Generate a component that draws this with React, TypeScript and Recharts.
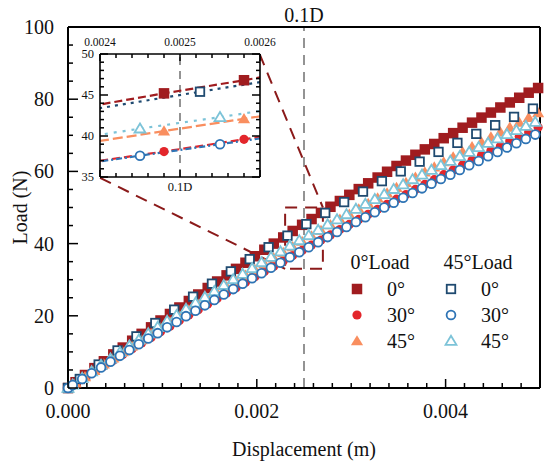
import React from 'react';
import {
  ScatterChart,
  ComposedChart,
  Scatter,
  Line,
  XAxis,
  YAxis,
  ReferenceLine,
  ReferenceArea,
  Legend,
} from 'recharts';

const FONT = '"Liberation Serif", "Times New Roman", serif';

// displacement (m) of the sampled points
const xFilled = [
  0, 0.00008, 0.00018, 0.00028, 0.00038, 0.00048, 0.00058, 0.00068, 0.00078, 0.00088, 0.00098,
  0.00108, 0.00118, 0.00128, 0.00138, 0.00148, 0.00158, 0.00168, 0.00178, 0.00188, 0.00198,
  0.00208, 0.00218, 0.00228, 0.00238, 0.00248, 0.00258, 0.00268, 0.00278, 0.00288, 0.00298,
  0.00308, 0.00318, 0.00328, 0.00338, 0.00348, 0.00358, 0.00368, 0.00378, 0.00388, 0.00398,
  0.00408, 0.00418, 0.00428, 0.00438, 0.00448, 0.00458, 0.00468, 0.00478, 0.00488, 0.00498,
];
const xHollow = [
  0, 0.00005, 0.00015, 0.00025, 0.00035, 0.00045, 0.00055, 0.00065, 0.00075, 0.00085, 0.00095,
  0.00105, 0.00115, 0.00125, 0.00135, 0.00145, 0.00155, 0.00165, 0.00175, 0.00185, 0.00195,
  0.00205, 0.00215, 0.00225, 0.00235, 0.00245, 0.00255, 0.00265, 0.00275, 0.00285, 0.00295,
  0.00305, 0.00315, 0.00325, 0.00335, 0.00345, 0.00355, 0.00365, 0.00375, 0.00385, 0.00395,
  0.00405, 0.00415, 0.00425, 0.00435, 0.00445, 0.00455, 0.00465, 0.00475, 0.00485, 0.00495,
];
const xSquareHollow = [
  0, 0.000125, 0.000325, 0.000525, 0.000725, 0.000925, 0.001125, 0.001325, 0.001525, 0.001725,
  0.001925, 0.002125, 0.002325, 0.002525, 0.002725, 0.002925, 0.003125, 0.003325, 0.003525,
  0.003725, 0.003925, 0.004125, 0.004325, 0.004525, 0.004725, 0.004925,
];

// load (N), 0° load direction
const load0_0 = [
  0, 1.6, 3.6, 5.5, 7.4, 9.3, 11.2, 13.1, 15.0, 16.8, 18.7, 20.5, 22.3, 24.1, 25.9, 27.7, 29.5,
  31.2, 33.0, 34.7, 36.5, 38.3, 40.0, 41.7, 43.5, 45.2, 46.8, 48.5, 50.2, 51.8, 53.5, 55.1, 56.7,
  58.3, 59.9, 61.5, 63.0, 64.6, 66.1, 67.6, 69.2, 70.6, 72.1, 73.5, 74.9, 76.3, 77.7, 79.1, 80.4,
  81.8, 83.1,
];
const load0_30 = [
  0, 1.3, 2.9, 4.5, 6.1, 7.7, 9.3, 10.9, 12.5, 14.0, 15.6, 17.1, 18.7, 20.2, 21.7, 23.3, 24.8,
  26.3, 27.8, 29.3, 30.8, 32.3, 33.7, 35.2, 36.7, 38.1, 39.6, 41.0, 42.4, 43.9, 45.3, 46.7, 48.1,
  49.5, 50.9, 52.3, 53.6, 55.0, 56.4, 57.7, 59.1, 60.4, 61.8, 63.1, 64.4, 65.7, 67.0, 68.4, 69.7,
  70.9, 72.2,
];
const load0_45 = [
  0, 1.4, 3.1, 4.8, 6.6, 8.3, 10.0, 11.6, 13.3, 15.0, 16.7, 18.3, 19.9, 21.6, 23.2, 24.8, 26.4,
  28.0, 29.6, 31.2, 32.8, 34.4, 36.0, 37.5, 39.1, 40.6, 42.1, 43.6, 45.2, 46.7, 48.1, 49.6, 51.1,
  52.6, 54.0, 55.5, 56.9, 58.4, 59.8, 61.2, 62.6, 64.0, 65.4, 66.8, 68.1, 69.5, 70.9, 72.2, 73.6,
  74.9, 76.2,
];
// load (N), 45° load direction
const load45_0 = [
  0, 2.5, 6.5, 10.4, 14.3, 18.0, 21.7, 25.3, 28.9, 32.3, 35.7, 39.0, 42.2, 45.4, 48.5, 51.5, 54.4,
  57.3, 60.0, 62.7, 65.4, 67.9, 70.4, 72.8, 75.1, 77.4,
];
const load45_30 = [
  0, 0.8, 2.5, 4.1, 5.7, 7.3, 8.9, 10.5, 12.1, 13.7, 15.2, 16.8, 18.3, 19.9, 21.4, 22.9, 24.4,
  25.9, 27.4, 28.9, 30.4, 31.8, 33.3, 34.7, 36.2, 37.6, 39.0, 40.4, 41.8, 43.2, 44.6, 46.0, 47.3,
  48.7, 50.0, 51.3, 52.7, 54.0, 55.3, 56.6, 57.9, 59.1, 60.4, 61.7, 62.9, 64.2, 65.4, 66.6, 67.8,
  69.0, 70.2,
];
const load45_45 = [
  0, 0.9, 2.8, 4.6, 6.4, 8.1, 9.9, 11.7, 13.4, 15.1, 16.9, 18.6, 20.2, 21.9, 23.6, 25.2, 26.8,
  28.5, 30.1, 31.6, 33.2, 34.8, 36.3, 37.8, 39.4, 40.9, 42.3, 43.8, 45.3, 46.7, 48.1, 49.6, 51.0,
  52.3, 53.7, 55.1, 56.4, 57.8, 59.1, 60.4, 61.7, 62.9, 64.2, 65.4, 66.7, 67.9, 69.1, 70.3, 71.4,
  72.6, 73.7,
];

// ticks
const xTicks = [
  0, 0.0002, 0.0004, 0.0006, 0.0008, 0.001, 0.0012, 0.0014, 0.0016, 0.0018, 0.002, 0.0022, 0.0024,
  0.0026, 0.0028, 0.003, 0.0032, 0.0034, 0.0036, 0.0038, 0.004, 0.0042, 0.0044, 0.0046, 0.0048,
];
const xMajor = [0, 0.002, 0.004];
const xMajorLabels = ['0.000', '0.002', '0.004'];
const yTicks = [0, 5, 10, 15, 20, 25, 30, 35, 40, 45, 50, 55, 60, 65, 70, 75, 80, 85, 90, 95, 100];
const yMajor = [0, 20, 40, 60, 80, 100];
const yMajorLabels = ['0', '20', '40', '60', '80', '100'];

const insetXTicks = [
  0.0024, 0.00242, 0.00244, 0.00246, 0.00248, 0.0025, 0.00252, 0.00254, 0.00256, 0.00258, 0.0026,
];
const insetXMajor = [0.0024, 0.0025, 0.0026];
const insetXLabels = ['0.0024', '0.0025', '0.0026'];
const insetYTicks = [35, 36, 37, 38, 39, 40, 41, 42, 43, 44, 45, 46, 47, 48, 49, 50];
const insetYMajor = [35, 40, 45, 50];
const insetYLabels = ['35', '40', '45', '50'];

const loadGroups = ['0°Load', '45°Load'];
const angleNames = ['0°', '30°', '45°'];

// marker point of 0.1D and the zoom window
const refX = 0.0025;
const zoomBox = { x1: 0.0023, x2: 0.0027, y1: 33, y2: 50 };
const connectors = [
  [{ x: 0.00203, y: 92.5 }, { x: 0.0027, y: 50 }],
  [{ x: 0.00034, y: 58.2 }, { x: 0.0023, y: 33 }],
];

const DARK_RED = '#A01C1F';
const RED = '#E3262B';
const ORANGE = '#F98E5F';
const NAVY = '#1F4A70';
const BLUE = '#2E74B5';
const LIGHT_BLUE = '#7CC3D8';

const txt = (size: number) => ({ fontSize: size, fontFamily: FONT, fill: '#111' });

const pts = (xs: number[], ys: number[]) => xs.map((x, i) => ({ x, y: ys[i] }));

type Kind = 'square' | 'circle' | 'triangle';

function Marker({ cx, cy, kind, color, hollow }: { cx: number; cy: number; kind: Kind; color: string; hollow: boolean }) {
  if (cx == null || cy == null || isNaN(cx) || isNaN(cy)) return null;
  const fill = hollow ? '#fff' : color;
  const stroke = hollow ? color : 'none';
  const sw = hollow ? 1.8 : 0;
  if (kind === 'square') {
    const s = hollow ? 8.5 : 10.5;
    return <rect x={cx - s / 2} y={cy - s / 2} width={s} height={s} fill={fill} stroke={stroke} strokeWidth={sw} />;
  }
  if (kind === 'circle') {
    return <circle cx={cx} cy={cy} r={hollow ? 4.4 : 4.6} fill={fill} stroke={stroke} strokeWidth={sw} />;
  }
  const h = hollow ? 5.2 : 5.8;
  return (
    <polygon
      points={`${cx},${cy - h} ${cx - h * 1.05},${cy + h * 0.75} ${cx + h * 1.05},${cy + h * 0.75}`}
      fill={fill}
      stroke={stroke}
      strokeWidth={sw}
    />
  );
}

const series = [
  { name: '0°Load 0°', data: pts(xFilled, load0_0), kind: 'square' as Kind, color: DARK_RED, hollow: false, dash: '8 4' },
  { name: '0°Load 30°', data: pts(xFilled, load0_30), kind: 'circle' as Kind, color: RED, hollow: false, dash: '8 4' },
  { name: '0°Load 45°', data: pts(xFilled, load0_45), kind: 'triangle' as Kind, color: ORANGE, hollow: false, dash: '10 4' },
  { name: '45°Load 0°', data: pts(xSquareHollow, load45_0), kind: 'square' as Kind, color: NAVY, hollow: true, dash: '3 5' },
  { name: '45°Load 45°', data: pts(xHollow, load45_45), kind: 'triangle' as Kind, color: LIGHT_BLUE, hollow: true, dash: '3 6' },
  { name: '45°Load 30°', data: pts(xHollow, load45_30), kind: 'circle' as Kind, color: BLUE, hollow: true, dash: '6 3 2 3' },
];

const near = (list: number[], v: number) => list.findIndex((m) => Math.abs(m - v) < 1e-9);

function xTick(majors: number[], labels: string[] | null, side: 'bottom' | 'top', long: number, short: number, fontSize: number, gap: number) {
  return (props: any) => {
    const { x, y, payload } = props;
    const idx = near(majors, payload.value);
    const dir = side === 'bottom' ? -1 : 1;
    return (
      <g>
        <line x1={x} y1={y} x2={x} y2={y + dir * (idx >= 0 ? long : short)} stroke="#000" strokeWidth={1.5} />
        {labels && idx >= 0 && (
          <text x={x} y={side === 'bottom' ? y + gap : y - gap} textAnchor="middle" style={txt(fontSize)}>
            {labels[idx]}
          </text>
        )}
      </g>
    );
  };
}

function yTick(majors: number[], labels: string[] | null, side: 'left' | 'right', long: number, short: number, fontSize: number, gap: number) {
  return (props: any) => {
    const { x, y, payload } = props;
    const idx = near(majors, payload.value);
    const dir = side === 'left' ? 1 : -1;
    return (
      <g>
        <line x1={x} y1={y} x2={x + dir * (idx >= 0 ? long : short)} y2={y} stroke="#000" strokeWidth={1.5} />
        {labels && idx >= 0 && (
          <text x={x - gap} y={y} dy="0.35em" textAnchor="end" style={txt(fontSize)}>
            {labels[idx]}
          </text>
        )}
      </g>
    );
  };
}

function LegendBox() {
  const cols = [series.slice(0, 3), [series[3], series[5], series[4]]];
  return (
    <svg width={210} height={105} style={{ overflow: 'visible' }}>
      {loadGroups.map((g, c) => (
        <text key={g} x={c === 0 ? 45 : 143} y={22} textAnchor="middle" style={txt(20)}>
          {g}
        </text>
      ))}
      {cols.map((col, c) =>
        col.map((s, r) => (
          <g key={s.name}>
            <Marker cx={c === 0 ? 22 : 116} cy={42 + r * 26} kind={s.kind} color={s.color} hollow={s.hollow} />
            <text x={c === 0 ? 52 : 146} y={49 + r * 26} style={txt(20)}>
              {angleNames[r]}
            </text>
          </g>
        ))
      )}
    </svg>
  );
}

export default function App() {
  return (
    <div style={{ position: 'absolute', left: 0, top: 0, width: 550, height: 467, background: '#fff', fontFamily: FONT }}>
      <ScatterChart width={550} height={467} margin={{ top: 26, right: 9, bottom: 49, left: 18 }}>
        <XAxis
          dataKey="x"
          type="number"
          domain={[0, 0.005]}
          ticks={xTicks}
          interval={0}
          height={30}
          tickSize={0}
          tickMargin={0}
          tickLine={false}
          axisLine={{ stroke: '#000', strokeWidth: 2 }}
          tick={xTick(xMajor, xMajorLabels, 'bottom', 9, 5, 20, 30)}
          label={{ value: 'Displacement (m)', position: 'bottom', offset: 24, style: txt(20) }}
        />
        <XAxis
          xAxisId="t"
          orientation="top"
          dataKey="x"
          type="number"
          domain={[0, 0.005]}
          ticks={xTicks}
          interval={0}
          height={1}
          tickSize={0}
          tickMargin={0}
          tickLine={false}
          axisLine={{ stroke: '#000', strokeWidth: 2 }}
          tick={xTick(xMajor, null, 'top', 9, 5, 20, 0)}
        />
        <YAxis
          dataKey="y"
          type="number"
          domain={[0, 100]}
          ticks={yTicks}
          interval={0}
          width={50}
          tickSize={0}
          tickMargin={0}
          tickLine={false}
          axisLine={{ stroke: '#000', strokeWidth: 2 }}
          tick={yTick(yMajor, yMajorLabels, 'left', 10, 5, 20, 14)}
          label={{ value: 'Load (N)', angle: -90, position: 'insideLeft', offset: 2, style: { ...txt(20), textAnchor: 'middle' } }}
        />
        <YAxis
          yAxisId="r"
          orientation="right"
          dataKey="y"
          type="number"
          domain={[0, 100]}
          ticks={yTicks}
          interval={0}
          width={1}
          tickSize={0}
          tickMargin={0}
          tickLine={false}
          axisLine={{ stroke: '#000', strokeWidth: 2 }}
          tick={yTick(yMajor, null, 'right', 10, 5, 20, 0)}
        />
        <ReferenceLine
          x={refX}
          stroke="#707070"
          strokeWidth={1.5}
          strokeDasharray="10 7"
          label={{ value: '0.1D', position: 'top', offset: 5, style: txt(20) }}
        />
        <ReferenceArea
          x1={zoomBox.x1}
          x2={zoomBox.x2}
          y1={zoomBox.y1}
          y2={zoomBox.y2}
          fill="none"
          stroke="#8B1A1A"
          strokeWidth={2}
          strokeDasharray="12 8"
          ifOverflow="visible"
        />
        {connectors.map((seg, i) => (
          <ReferenceLine key={i} segment={seg} stroke="#8B1A1A" strokeWidth={2} strokeDasharray="12 8" ifOverflow="visible" />
        ))}
        {series.map((s) => (
          <Scatter
            key={s.name}
            name={s.name}
            data={s.data}
            isAnimationActive={false}
            shape={(p: any) => <Marker cx={p.cx} cy={p.cy} kind={s.kind} color={s.color} hollow={s.hollow} />}
          />
        ))}
        <Legend
          layout="horizontal"
          verticalAlign="middle"
          align="center"
          wrapperStyle={{ left: 335, top: 247, width: 210, height: 105 }}
          content={() => <LegendBox />}
        />
      </ScatterChart>

      <div style={{ position: 'absolute', left: 0, top: 0 }}>
        <ComposedChart width={290} height={200} margin={{ top: 53, right: 29, bottom: 22, left: 70 }}>
          <XAxis
            dataKey="x"
            type="number"
            domain={[0.0024, 0.0026]}
            allowDataOverflow
            ticks={insetXTicks}
            interval={0}
            height={1}
            tickSize={0}
            tickMargin={0}
            tickLine={false}
            axisLine={{ stroke: '#000', strokeWidth: 1.6 }}
            tick={xTick(insetXMajor, null, 'bottom', 7, 4, 11, 0)}
          />
          <XAxis
            xAxisId="t"
            orientation="top"
            dataKey="x"
            type="number"
            domain={[0.0024, 0.0026]}
            allowDataOverflow
            ticks={insetXTicks}
            interval={0}
            height={1}
            tickSize={0}
            tickMargin={0}
            tickLine={false}
            axisLine={{ stroke: '#000', strokeWidth: 1.6 }}
            tick={xTick(insetXMajor, insetXLabels, 'top', 7, 4, 11.5, 8)}
          />
          <YAxis
            type="number"
            domain={[35, 50]}
            allowDataOverflow
            ticks={insetYTicks}
            interval={0}
            width={30}
            tickSize={0}
            tickMargin={0}
            tickLine={false}
            axisLine={{ stroke: '#000', strokeWidth: 1.6 }}
            tick={yTick(insetYMajor, insetYLabels, 'left', 8, 4, 12.5, 6)}
          />
          <YAxis
            yAxisId="r"
            orientation="right"
            type="number"
            domain={[35, 50]}
            allowDataOverflow
            ticks={insetYTicks}
            interval={0}
            width={1}
            tickSize={0}
            tickMargin={0}
            tickLine={false}
            axisLine={{ stroke: '#000', strokeWidth: 1.6 }}
            tick={yTick(insetYMajor, null, 'right', 8, 4, 12, 0)}
          />
          <ReferenceLine
            x={refX}
            stroke="#707070"
            strokeWidth={1.5}
            strokeDasharray="8 6"
            label={{ value: '0.1D', position: 'bottom', offset: 5, style: txt(12.5) }}
          />
          {series.map((s) => (
            <Line
              key={s.name}
              data={s.data}
              dataKey="y"
              type="linear"
              stroke={s.color}
              strokeWidth={2.2}
              strokeDasharray={s.dash}
              isAnimationActive={false}
              dot={(p: any) => <Marker key={p.index} cx={p.cx} cy={p.cy} kind={s.kind} color={s.color} hollow={s.hollow} />}
              activeDot={false}
            />
          ))}
        </ComposedChart>
      </div>
    </div>
  );
}
